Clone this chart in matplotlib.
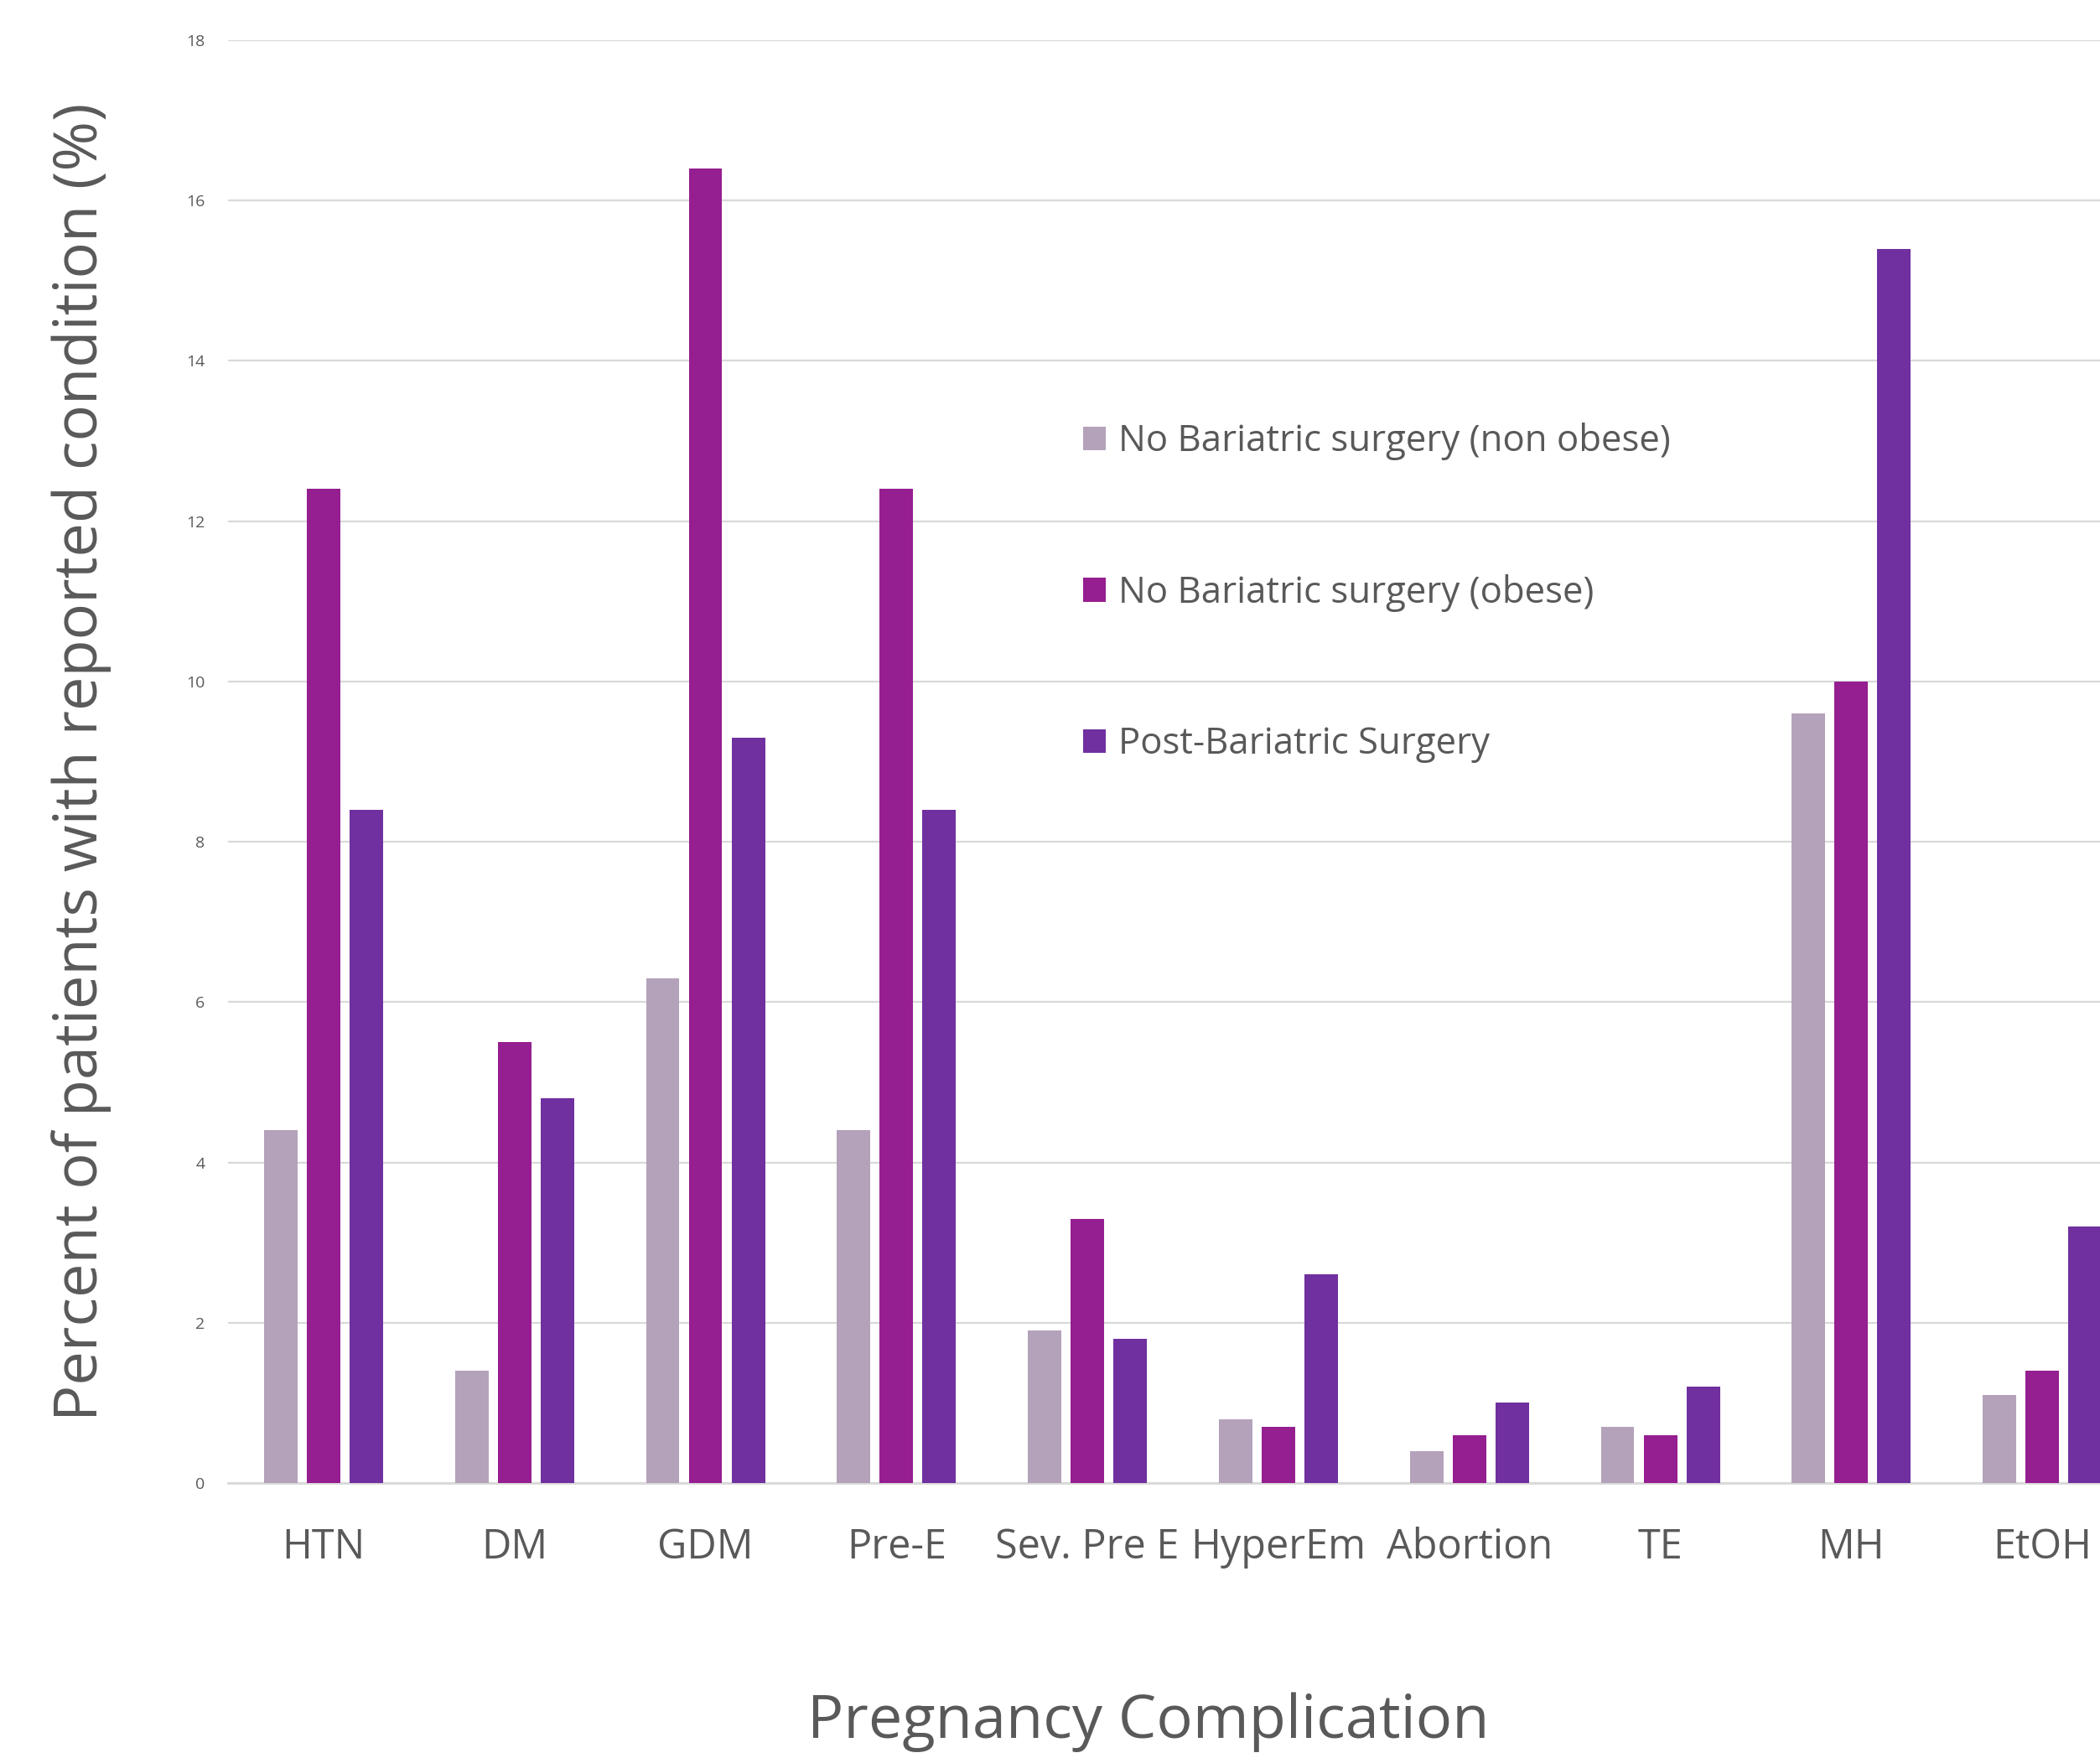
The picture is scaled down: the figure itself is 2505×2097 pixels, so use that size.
import numpy as np
import matplotlib.pyplot as plt
from matplotlib.patches import Patch

plt.rcParams["font.family"] = ["Open Sans", "DejaVu Sans"]

complications = ["HTN", "DM", "GDM", "Pre-E", "Sev. Pre E", "HyperEm",
                  "Abortion", "TE", "MH", "EtOH"]
non_obese = [4.4, 1.4, 6.3, 4.4, 1.9, 0.8, 0.4, 0.7, 9.6, 1.1]
obese = [12.4, 5.5, 16.4, 12.4, 3.3, 0.7, 0.6, 0.6, 10.0, 1.4]
post_surgery = [8.4, 4.8, 9.3, 8.4, 1.8, 2.6, 1.0, 1.2, 15.4, 3.2]

series_names = ["No Bariatric surgery (non obese)",
                "No Bariatric surgery (obese)",
                "Post-Bariatric Surgery"]
colors = ["#B4A2BA", "#951E90", "#70309F"]
text_gray = "#595959"
grid_gray = "#D9D9D9"

fig = plt.figure(figsize=(25.05, 20.97), dpi=100)
# axes run a little past the right edge of the figure
ax = fig.add_axes([0.1086, 0.1564, 0.9094, 0.8207])

x = np.arange(len(complications))
bar_w = 0.175
step = 0.224
for i, (vals, col) in enumerate(zip([non_obese, obese, post_surgery], colors)):
    ax.bar(x + (i - 1) * step, vals, width=bar_w, color=col, zorder=3)

ax.set_xlim(-0.5, 9.5)
ax.set_ylim(0, 18)
ax.set_yticks(np.arange(0, 19, 2))
ax.yaxis.grid(True, color=grid_gray, linewidth=1.6, zorder=0)
ax.set_axisbelow(True)
for side in ["top", "right", "left"]:
    ax.spines[side].set_visible(False)
ax.spines["bottom"].set_color(grid_gray)
ax.spines["bottom"].set_linewidth(2)
ax.tick_params(axis="both", length=0)
ax.tick_params(axis="y", labelsize=14, labelcolor=text_gray, pad=20)
ax.set_xticks(x)
ax.set_xticklabels(complications, fontsize=35, color=text_gray)
ax.tick_params(axis="x", pad=38)

ax.set_ylabel("Percent of patients with reported condition (%)",
              fontsize=52, color=text_gray, labelpad=64)
ax.set_xlabel("Pregnancy Complication", fontsize=52, color=text_gray,
              labelpad=106)
# centre the x label on the visible part of the axes
ax.xaxis.label.set_x(0.482)

handles = [Patch(facecolor=c, edgecolor="none") for c in colors]
ax.legend(handles, series_names, loc="upper left",
          bbox_to_anchor=(0.44, 0.745), frameon=False, fontsize=31.5,
          labelcolor=text_gray, handlelength=0.62, handleheight=0.62,
          handletextpad=0.35, labelspacing=3.1, borderaxespad=0)

fig.savefig("out.png", dpi=100)
